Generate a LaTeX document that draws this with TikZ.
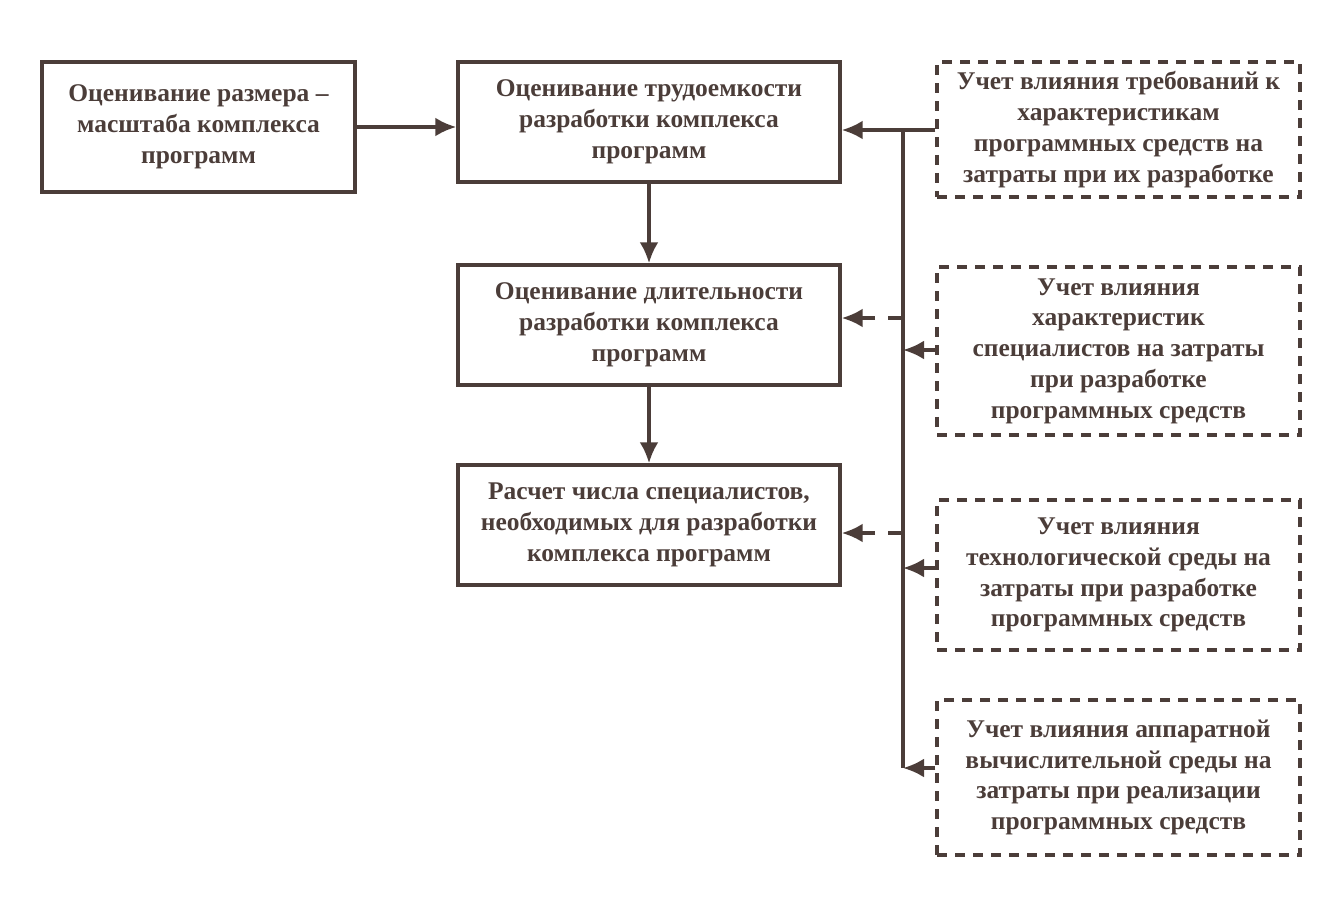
\documentclass[tikz,border=0pt]{standalone}
\usepackage{fontspec}
\setmainfont{Liberation Serif}
\usetikzlibrary{arrows.meta}
\definecolor{ink}{HTML}{4B3D39}
\tikzset{
  box/.style={draw=ink, line width=2pt, align=center, inner sep=0pt,
    font=\bfseries\fontsize{14.5}{17.5}\selectfont, text=ink},
  dbox/.style={box, line width=1.8pt, dash pattern=on 0.2cm off 0.16cm},
  arr/.style={draw=ink, line width=2pt, -{Latex[length=0.42cm,width=0.38cm]}},
  bus/.style={draw=ink, line width=2pt},
  dline/.style={arr, dash pattern=on 0.3cm off 0.26cm}
}
\begin{document}
\begin{tikzpicture}[x=0.02cm,y=-0.02cm]
  \useasboundingbox (0,0) rectangle (1331,903);
  % left column
  \node[box, minimum width=6.26cm, minimum height=2.6cm] (size) at (198.5,127)
    {Оценивание размера --\\масштаба комплекса\\программ};
  % middle column
  \node[box, minimum width=7.64cm, minimum height=2.4cm] (effort) at (649,122)
    {Оценивание трудоемкости\\разработки комплекса\\программ};
  \node[box, minimum width=7.64cm, minimum height=2.4cm] (duration) at (649,325)
    {Оценивание длительности\\разработки комплекса\\программ};
  \node[box, minimum width=7.64cm, minimum height=2.4cm] (staff) at (649,525)
    {Расчет числа специалистов,\\необходимых для разработки\\комплекса программ};
  % right column
  \node[dbox, minimum width=7.26cm, minimum height=2.7cm] (req) at (1118.5,129.5)
    {Учет влияния требований к\\характеристикам\\программных средств на\\затраты при их разработке};
  \node[dbox, minimum width=7.26cm, minimum height=3.36cm] (spec) at (1118.5,351)
    {Учет влияния\\характеристик\\специалистов на затраты\\при разработке\\программных средств};
  \node[dbox, minimum width=7.26cm, minimum height=3cm] (tech) at (1118.5,575)
    {Учет влияния\\технологической среды на\\затраты при разработке\\программных средств};
  \node[dbox, minimum width=7.26cm, minimum height=3.1cm] (hw) at (1118.5,777.5)
    {Учет влияния аппаратной\\вычислительной среды на\\затраты при реализации\\программных средств};
  % bus
  \coordinate (b1) at (903,130);
  \coordinate (b2) at (903,350);
  \coordinate (b3) at (903,568);
  \coordinate (b4) at (903,768);
  \coordinate (d1) at (903,318);
  \coordinate (d2) at (903,533);
  \draw[bus] (b1) -- (b4);
  % connectors
  \draw[arr] (size.east |- 0,127) -- (effort.west |- 0,127);
  \draw[arr] (effort) -- (duration);
  \draw[arr] (duration) -- (staff);
  \draw[arr] (b1 -| req.west) -- (b1 -| effort.east);
  \draw[arr] (b2 -| spec.west) -- (b2);
  \draw[arr] (b3 -| tech.west) -- (b3);
  \draw[arr] (b4 -| hw.west) -- (b4);
  \draw[dline] (d1) -- (d1 -| duration.east);
  \draw[dline] (d2) -- (d2 -| staff.east);
\end{tikzpicture}
\end{document}
